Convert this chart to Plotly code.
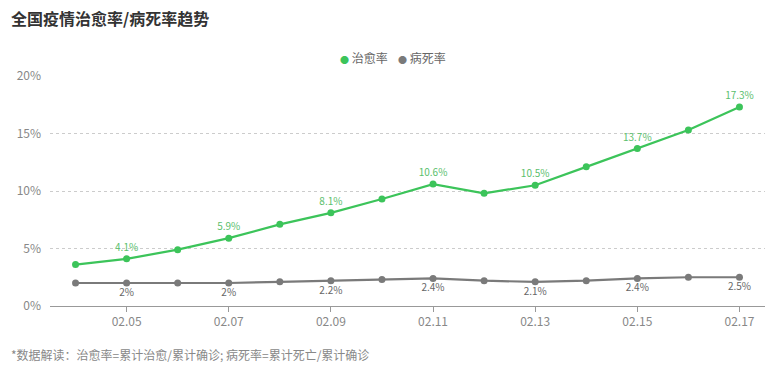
import plotly.graph_objects as go

dates = ["02.04", "02.05", "02.06", "02.07", "02.08", "02.09", "02.10",
         "02.11", "02.12", "02.13", "02.14", "02.15", "02.16", "02.17"]
cure_rate = [3.6, 4.1, 4.9, 5.9, 7.1, 8.1, 9.3, 10.6, 9.8, 10.5, 12.1, 13.7, 15.3, 17.3]
death_rate = [2.0, 2.0, 2.0, 2.0, 2.1, 2.2, 2.3, 2.4, 2.2, 2.1, 2.2, 2.4, 2.5, 2.5]
labeled_idx = [1, 3, 5, 7, 9, 11, 13]
tick_dates = ["02.05", "02.07", "02.09", "02.11", "02.13", "02.15", "02.17"]
y_ticks = [0, 5, 10, 15, 20]

GREEN = "#3cc45a"
GREY = "#7a7a7a"
FONT = "Noto Sans CJK SC"

PL, PR, PT, PB = 50, 7, 76, 63
W, H = 772, 369
PW, PH = W - PL - PR, H - PT - PB


def fmt(v):
    return f"{v:g}%"


def px_x(x):
    return (x - PL) / PW


def px_y(y):
    return (H - PB - y) / PH


cure_text = [fmt(v) if i in labeled_idx else "" for i, v in enumerate(cure_rate)]
death_text = [fmt(v) if i in labeled_idx else "" for i, v in enumerate(death_rate)]

fig = go.Figure()
fig.add_trace(go.Scatter(
    x=dates, y=cure_rate, mode="lines+markers+text", name="治愈率",
    line=dict(color=GREEN, width=2.2), marker=dict(size=7, color=GREEN),
    text=cure_text, textposition="top center",
    textfont=dict(size=10, color="#5bc06d", family=FONT),
    showlegend=False, cliponaxis=False,
))
fig.add_trace(go.Scatter(
    x=dates, y=death_rate, mode="lines+markers+text", name="病死率",
    line=dict(color=GREY, width=2.2), marker=dict(size=7, color=GREY),
    text=death_text, textposition="bottom center",
    textfont=dict(size=10, color="#666666", family=FONT),
    showlegend=False, cliponaxis=False,
))

fig.update_layout(
    width=W, height=H,
    margin=dict(l=PL, r=PR, t=PT, b=PB, autoexpand=False),
    paper_bgcolor="white", plot_bgcolor="white",
    font=dict(family=FONT, color="#888888", size=12),
    showlegend=False,
    xaxis=dict(
        type="category", categoryorder="array", categoryarray=dates,
        range=[-0.5, 13.5], tickmode="array", tickvals=tick_dates, ticktext=tick_dates,
        showgrid=False, showline=True, linecolor="#999999", linewidth=1,
        ticks="outside", ticklen=5, tickcolor="#999999", automargin=False,
        tickfont=dict(size=12, color="#888888"), zeroline=False,
    ),
    yaxis=dict(
        range=[0, 20], tickmode="array", tickvals=y_ticks,
        ticktext=[f"{v}%" for v in y_ticks], automargin=False,
        showgrid=True, gridcolor="#cccccc", griddash="dot", gridwidth=1,
        zeroline=False, showline=False, ticks="", ticklabelstandoff=8,
        tickfont=dict(size=12, color="#888888"),
    ),
    annotations=[
        dict(text="<b>全国疫情治愈率/病死率趋势</b>", xref="paper", yref="paper",
             x=px_x(9), y=px_y(18), xanchor="left", yanchor="middle", showarrow=False,
             font=dict(size=16, color="#333333", family=FONT)),
        dict(text=f"<span style='color:{GREEN};font-size:9px'>●</span> 治愈率",
             xref="paper", yref="paper",
             x=px_x(338), y=px_y(57), xanchor="left", yanchor="middle", showarrow=False,
             font=dict(size=12, color="#666666", family=FONT)),
        dict(text=f"<span style='color:{GREY};font-size:9px'>●</span> 病死率",
             xref="paper", yref="paper",
             x=px_x(396), y=px_y(57), xanchor="left", yanchor="middle", showarrow=False,
             font=dict(size=12, color="#666666", family=FONT)),
        dict(text="*数据解读：治愈率=累计治愈/累计确诊; 病死率=累计死亡/累计确诊",
             xref="paper", yref="paper", x=px_x(9), y=px_y(354),
             xanchor="left", yanchor="middle", showarrow=False,
             font=dict(size=12, color="#888888", family=FONT)),
    ],
)

fig.write_html("out.html", config={"displayModeBar": False},
               post_script="document.body.style.margin='0';document.body.style.padding='0';")
